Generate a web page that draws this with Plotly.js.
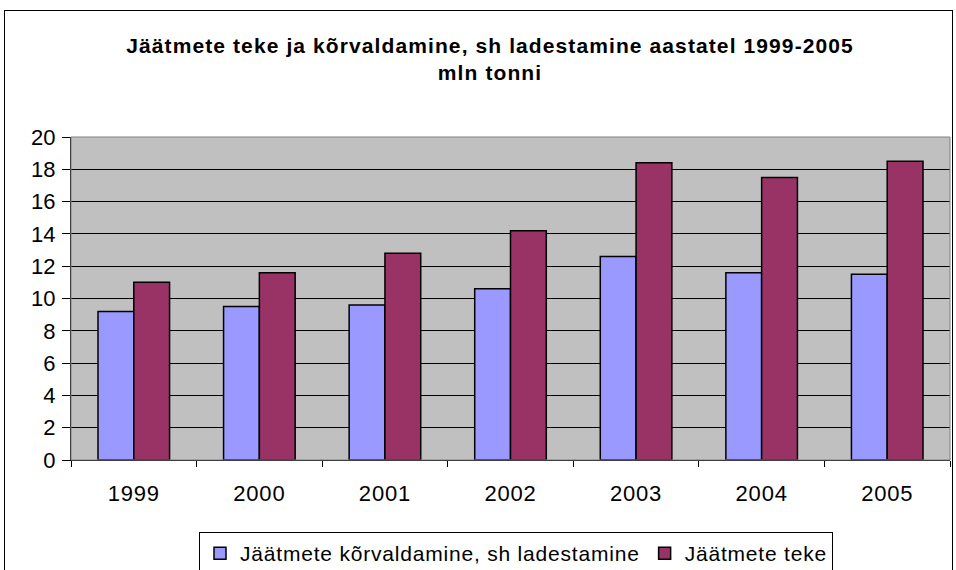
<!DOCTYPE html>
<html>
<head>
<meta charset="utf-8">
<script src="https://cdn.plot.ly/plotly-3.0.1.min.js"></script>
<style>
html,body{margin:0;padding:0;background:#fff;}
#wrap{position:relative;width:956px;height:570px;overflow:hidden;}
#chart{position:absolute;left:0;top:0;width:956px;height:570px;}
#frame{position:absolute;left:4px;top:10px;width:947px;height:600px;border:1px solid #000;pointer-events:none;}
.gtitle{letter-spacing:1.1px;}
.legendtext{letter-spacing:0.8px;}
.xtick text{letter-spacing:0.8px;}
</style>
</head>
<body>
<div id="wrap"><div id="chart"></div><div id="frame"></div></div>
<script>
const years = ['1999','2000','2001','2002','2003','2004','2005'];
const disposal = [9.2, 9.5, 9.6, 10.6, 12.6, 11.6, 11.5];
const generation = [11.0, 11.6, 12.8, 14.2, 18.4, 17.5, 18.5];
const seriesNames = ['Jäätmete kõrvaldamine, sh ladestamine', 'Jäätmete teke'];
const titleText = 'Jäätmete teke ja kõrvaldamine, sh ladestamine aastatel 1999-2005<br>mln tonni';

const font = 'Liberation Sans, Arial, sans-serif';
const traces = [
  {type:'bar', x: years, y: disposal, name: seriesNames[0],
   marker:{color:'#9999FF', line:{color:'#000', width:1.5}}},
  {type:'bar', x: years, y: generation, name: seriesNames[1],
   marker:{color:'#993366', line:{color:'#000', width:1.5}}}
];
const layout = {
  width:956, height:570,
  margin:{l:71, r:6, t:137, b:110, autoexpand:false},
  paper_bgcolor:'rgba(0,0,0,0)',
  plot_bgcolor:'#C0C0C0',
  font:{family:font, size:22, color:'#000'},
  title:{text:titleText, font:{family:font, size:21, color:'#000', weight:'bold'},
         xref:'container', x:0.5126, xanchor:'center', yref:'container', y:1-53/570, yanchor:'top'},
  barmode:'group', bargap:0.43, bargroupgap:0,
  xaxis:{type:'category', showline:true, linecolor:'#000', linewidth:1, mirror:false, automargin:false,
         ticks:'outside', tickson:'boundaries', ticklen:6, tickcolor:'#000',
         ticklabelstandoff:14, showgrid:false, tickfont:{size:22}},
  yaxis:{range:[0,20], dtick:2, showline:true, linecolor:'#000', linewidth:1, automargin:false,
         ticks:'outside', ticklen:8, tickcolor:'#000', gridcolor:'#000', gridwidth:1,
         zeroline:false, tickfont:{size:22}, ticklabelstandoff:2},
  shapes:[{type:'rect', xref:'paper', yref:'paper', x0:0, x1:1, y0:0, y1:1,
           line:{color:'#808080', width:1}, layer:'above'}],
  showlegend:true,
  legend:{orientation:'h', xref:'container', x:516/956, xanchor:'center', yref:'container', y:1-532/570, yanchor:'top',
          bordercolor:'#000', borderwidth:1, bgcolor:'#fff', font:{size:21}, itemwidth:30}
};
Plotly.newPlot('chart', traces, layout, {displayModeBar:false, staticPlot:true});
</script>
</body>
</html>
